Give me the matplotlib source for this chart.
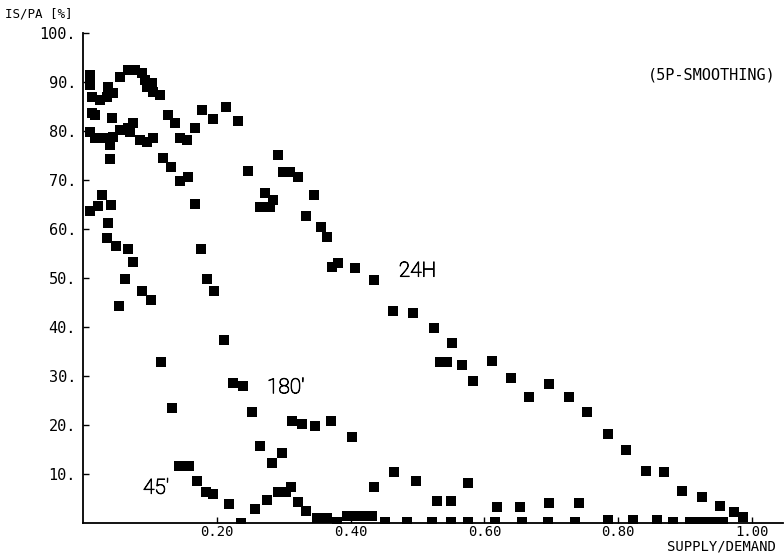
import matplotlib
matplotlib.use("Agg")
import matplotlib.pyplot as plt
import matplotlib.patheffects as pe

# IS/PA [%] versus supply/demand ratio, three smoothing horizons
x_24h = [0.0105, 0.0105, 0.0135, 0.025, 0.037, 0.036, 0.045, 0.055, 0.067, 0.078, 0.088,
         0.093, 0.096, 0.103, 0.105, 0.115, 0.127, 0.1375, 0.145, 0.155, 0.167, 0.178,
         0.194, 0.214, 0.232, 0.247, 0.291, 0.299, 0.309, 0.321, 0.272, 0.284, 0.265,
         0.280, 0.345, 0.333, 0.356, 0.365, 0.372, 0.381, 0.407, 0.435, 0.463, 0.493,
         0.525, 0.552, 0.534, 0.544, 0.567, 0.583, 0.611, 0.640, 0.667, 0.697, 0.726,
         0.753, 0.785, 0.812, 0.842, 0.868, 0.895, 0.925, 0.952, 0.973, 0.987]
y_24h = [91.4, 89.4, 86.9, 86.3, 89.0, 86.9, 87.8, 91.0, 92.4, 92.4, 91.8,
         90.4, 89.0, 89.8, 88.0, 87.3, 83.3, 81.6, 78.6, 78.2, 80.6, 84.3,
         82.4, 84.9, 82.0, 71.8, 75.1, 71.6, 71.6, 70.6, 67.3, 65.9, 64.5,
         64.5, 66.9, 62.7, 60.4, 58.4, 52.2, 53.1, 52.0, 49.6, 43.3, 42.9,
         39.8, 36.7, 32.9, 32.9, 32.2, 29.0, 33.1, 29.6, 25.7, 28.4, 25.7,
         22.7, 18.2, 14.9, 10.6, 10.4, 6.5, 5.3, 3.5, 2.2, 1.2]

x_180 = [0.0135, 0.018, 0.043, 0.0105, 0.018, 0.033, 0.040, 0.045, 0.055, 0.067, 0.075,
         0.070, 0.085, 0.096, 0.105, 0.040, 0.120, 0.1315, 0.145, 0.157, 0.167, 0.176,
         0.185, 0.196, 0.211, 0.224, 0.239, 0.253, 0.265, 0.2825, 0.297, 0.312, 0.327,
         0.347, 0.371, 0.402, 0.435, 0.465, 0.498, 0.529, 0.550, 0.5755, 0.619, 0.653,
         0.697, 0.741]
y_180 = [83.7, 83.3, 82.7, 79.8, 78.6, 78.6, 77.1, 78.8, 80.2, 80.6, 81.6,
         79.8, 78.2, 77.8, 78.6, 74.3, 74.5, 72.7, 69.8, 70.6, 65.1, 55.9,
         49.8, 47.3, 37.3, 28.6, 28.0, 22.7, 15.7, 12.2, 14.3, 20.8, 20.2,
         19.8, 20.8, 17.6, 7.3, 10.4, 8.6, 4.5, 4.5, 8.2, 3.3, 3.3,
         4.1, 4.1]

x_45 = [0.028, 0.0105, 0.022, 0.042, 0.037, 0.036, 0.049, 0.067, 0.075, 0.063, 0.088,
        0.102, 0.054, 0.117, 0.133, 0.1435, 0.158, 0.170, 0.184, 0.194, 0.218, 0.236,
        0.257, 0.275, 0.291, 0.303, 0.311, 0.321, 0.333, 0.350, 0.365, 0.380, 0.395,
        0.410, 0.425, 0.432, 0.451, 0.484, 0.522, 0.550, 0.5755, 0.616, 0.656, 0.695,
        0.735, 0.785, 0.822, 0.858, 0.882, 0.908, 0.921, 0.933, 0.945, 0.957]
y_45 = [66.9, 63.7, 64.7, 64.9, 61.2, 58.2, 56.5, 55.9, 53.3, 49.8, 47.3,
        45.5, 44.3, 32.9, 23.5, 11.6, 11.6, 8.6, 6.3, 5.9, 3.9, 0.0,
        2.9, 4.7, 6.3, 6.3, 7.3, 4.3, 2.4, 1.0, 1.0, 0.2, 1.4,
        1.4, 1.4, 1.4, 0.2, 0.2, 0.2, 0.2, 0.2, 0.2, 0.2, 0.2,
        0.2, 0.6, 0.6, 0.6, 0.2, 0.2, 0.2, 0.2, 0.2, 0.2]

y_ticks = [10, 20, 30, 40, 50, 60, 70, 80, 90, 100]
x_ticks = [0.20, 0.40, 0.60, 0.80, 1.00]

mono = "DejaVu Sans Mono"
thin = ["Roboto", "DejaVu Sans"]
ink = [pe.withStroke(linewidth=0.6, foreground="black")]

fig = plt.figure(figsize=(7.84, 5.53), dpi=100)
ax = fig.add_axes([83 / 784, 30 / 553, 700 / 784, 490 / 553])

for xs, ys in [(x_24h, y_24h), (x_180, y_180), (x_45, y_45)]:
    ax.plot(xs, ys, linestyle="none", marker="s", markersize=7.5,
            color="black", markeredgewidth=0)

ax.set_xlim(0, 700 / 669)
ax.set_ylim(0, 100)
for side in ["top", "right"]:
    ax.spines[side].set_visible(False)
for side in ["left", "bottom"]:
    ax.spines[side].set_linewidth(1.3)

ax.set_yticks(y_ticks)
ax.set_yticklabels([f"{v}." for v in y_ticks], family=mono, fontsize=11)
ax.set_xticks(x_ticks)
ax.set_xticklabels([f"{v:.2f}" for v in x_ticks], family=mono, fontsize=10)
ax.tick_params(direction="in", length=4, width=1)
ax.tick_params(axis="y", pad=5)
ax.tick_params(axis="x", pad=1.5)

for x, y, s in [(0.472, 51.4, "24H"), (0.275, 27.6, "180\u2032"), (0.0897, 7.1, "45\u2032")]:
    ax.text(x, y, s, family=thin, fontweight="light", color="black", fontsize=15,
            va="center", path_effects=ink)

fig.text(5 / 784, 1 - 14 / 553, "IS/PA [%]", family=mono, fontsize=9, va="center")
fig.text(776 / 784, 1 - 75 / 553, "(5P-SMOOTHING)", family=mono, fontsize=11,
         ha="right", va="center")
fig.text(776 / 784, 2 / 553, "SUPPLY/DEMAND", family=mono, fontsize=10,
         ha="right", va="baseline")

fig.savefig("out.png", dpi=100)
